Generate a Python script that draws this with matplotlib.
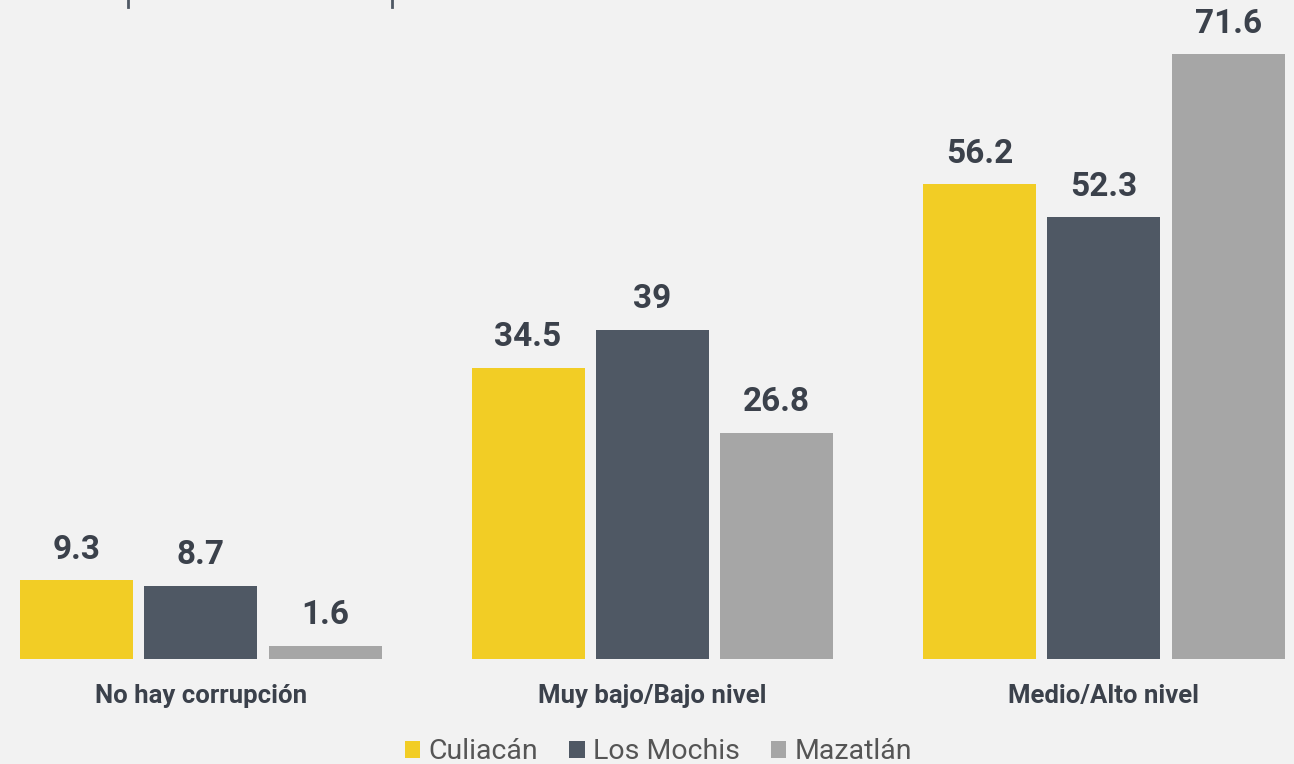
import matplotlib
matplotlib.use("Agg")
import matplotlib.pyplot as plt
from matplotlib.patches import Patch
from matplotlib.lines import Line2D
import numpy as np

categories = ["No hay corrupción", "Muy bajo/Bajo nivel", "Medio/Alto nivel"]
series_names = ["Culiacán", "Los Mochis", "Mazatlán"]
culiacan = [9.3, 34.5, 56.2]
los_mochis = [8.7, 39, 52.3]
mazatlan = [1.6, 26.8, 71.6]
values = [culiacan, los_mochis, mazatlan]
colors = ["#F2CD25", "#4F5864", "#A6A6A6"]

bg = "#F2F2F2"
text_dark = "#3B414B"

fig = plt.figure(figsize=(12.94, 7.64), dpi=100, facecolor=bg)
ax = fig.add_axes([0, 0.1374, 1, 0.8626])
ax.set_facecolor(bg)

x = np.arange(len(categories))
width = 0.25
step = 0.2754
for i, (vals, col) in enumerate(zip(values, colors)):
    pos = x + (i - 1) * step
    ax.bar(pos, vals, width=width, color=col, label=series_names[i])
    for p, v in zip(pos, vals):
        ax.text(p, v + 1.7, f"{v:g}", ha="center", va="bottom",
                fontsize=24, fontweight="bold", color=text_dark, family="Roboto")

ax.set_xlim(-0.445, 2.421)
ax.set_ylim(0, 78)
for s in ax.spines.values():
    s.set_visible(False)
ax.set_yticks([])
ax.set_xticks(x)
ax.set_xticklabels(categories, fontsize=18.5, fontweight="bold", color=text_dark, family="Roboto")
ax.tick_params(axis="x", length=0, pad=18)

# small tick remnants at the top edge
for xf in (128 / 1294, 392 / 1294):
    fig.add_artist(Line2D([xf, xf], [1, 1 - 7 / 764], color="#4F5864", lw=2,
                          transform=fig.transFigure))

handles = [Patch(facecolor=c, edgecolor="none") for c in colors]
leg = fig.legend(handles, series_names, loc="center", bbox_to_anchor=(0.509, 0.016),
                 ncol=3, frameon=False, handlelength=0.53, handleheight=0.53,
                 handletextpad=0.3, columnspacing=1.1,
                 prop={"family": "Roboto", "size": 20.5})
for t in leg.get_texts():
    t.set_color("#555555")

fig.savefig("out.png", dpi=100, facecolor=bg)
